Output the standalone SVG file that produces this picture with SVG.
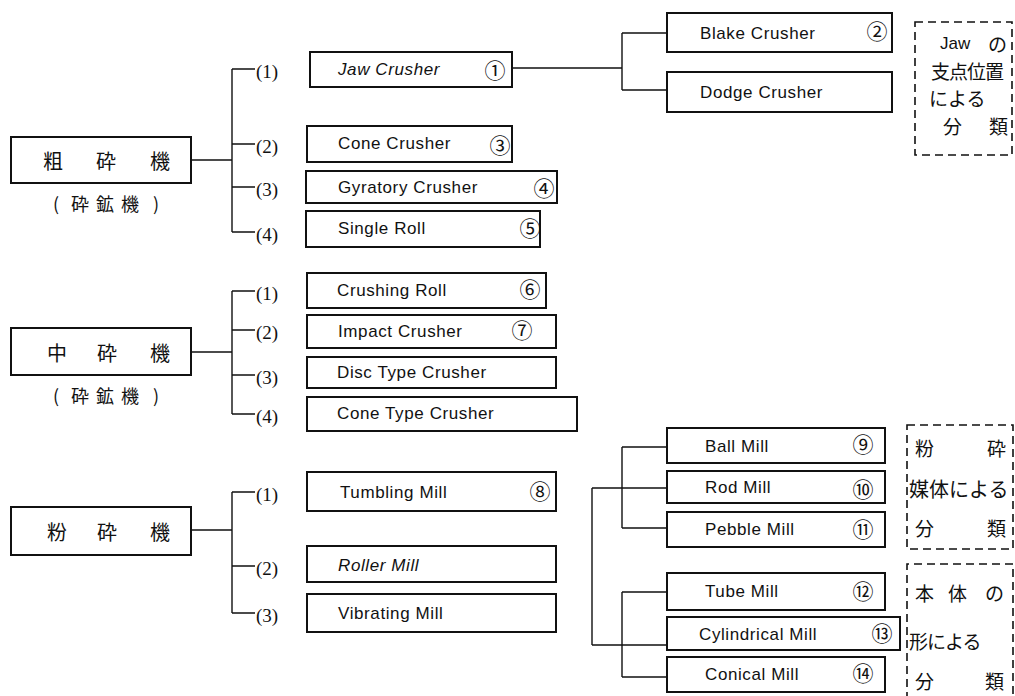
<svg xmlns="http://www.w3.org/2000/svg" width="1015" height="696" viewBox="0 0 1015 696">
<style>
.box{fill:#fff;stroke:#111;stroke-width:2}
.dash{fill:none;stroke:#111;stroke-width:1.6;stroke-dasharray:8 5}
.ln{fill:none;stroke:#111;stroke-width:1.4}
.en{font-family:"Liberation Sans",Arial,sans-serif;font-size:17px;letter-spacing:0.6px;fill:#111;dominant-baseline:central}
.it{font-style:italic}
.num{font-family:"Noto Sans CJK JP",sans-serif;font-size:21px;fill:#111;text-anchor:middle;dominant-baseline:central}
.jp{font-family:"Noto Sans CJK JP",sans-serif;font-size:20px;fill:#111;text-anchor:middle;dominant-baseline:central}
.jps{font-family:"Noto Sans CJK JP",sans-serif;font-size:18px;fill:#111;text-anchor:middle;dominant-baseline:central}
.jpd{font-family:"Noto Sans CJK JP",sans-serif;font-size:19px;fill:#111;dominant-baseline:central}
.lab{font-family:"Liberation Serif","Times New Roman",serif;font-size:19px;fill:#111;dominant-baseline:central}
</style>
<rect width="1015" height="696" fill="#fff"/>

<g id="connectors">
  <path class="ln" d="M191 160H232M232 69V232M232 69H255M232 144H255M232 187H255M232 232H255"/>
  <path class="ln" d="M512 68H622M622 33V90M622 33H667M622 90H667"/>
  <path class="ln" d="M191 352H232M232 291V414M232 291H255M232 330H255M232 375H255M232 414H255"/>
  <path class="ln" d="M191 530H232M232 492V613M232 492H255M232 566H255M232 613H255"/>
  <path class="ln" d="M592 488V645M592 488H667M592 645H667"/>
  <path class="ln" d="M622 447V528M622 447H667M622 528H667"/>
  <path class="ln" d="M622 592V677M622 592H667M622 677H667"/>
</g>

<g id="n-coarse">
  <rect class="box" x="11" y="137" width="180" height="46"/>
  <text class="jp" x="53" y="160">粗</text><text class="jp" x="106" y="160">砕</text><text class="jp" x="160" y="160">機</text>
  <text class="jps" x="56" y="203">(</text><text class="jps" x="80" y="203">砕</text><text class="jps" x="105" y="203">鉱</text><text class="jps" x="130" y="203">機</text><text class="jps" x="156" y="203">)</text>
</g>
<g id="labels-1">
  <text class="lab" x="256" y="71">(1)</text>
  <text class="lab" x="256" y="146">(2)</text>
  <text class="lab" x="256" y="189">(3)</text>
  <text class="lab" x="256" y="234">(4)</text>
</g>
<g id="n-jaw">
  <rect class="box" x="310" y="52" width="202" height="35"/>
  <text class="en it" x="338" y="69">Jaw Crusher</text><text class="num" x="495" y="69">①</text>
</g>
<g id="n-cone">
  <rect class="box" x="307" y="126" width="205" height="36"/>
  <text class="en" x="338" y="143">Cone Crusher</text><text class="num" x="500" y="144">③</text>
</g>
<g id="n-gyratory">
  <rect class="box" x="306" y="171" width="251" height="32"/>
  <text class="en" x="338" y="187">Gyratory Crusher</text><text class="num" x="544" y="187">④</text>
</g>
<g id="n-single">
  <rect class="box" x="306" y="211" width="234" height="36"/>
  <text class="en" x="338" y="228">Single Roll</text><text class="num" x="530" y="227">⑤</text>
</g>
<g id="n-blake">
  <rect class="box" x="667" y="13" width="225" height="39"/>
  <text class="en" x="700" y="33">Blake Crusher</text><text class="num" x="877" y="30">②</text>
</g>
<g id="n-dodge">
  <rect class="box" x="667" y="72" width="225" height="40"/>
  <text class="en" x="700" y="92">Dodge Crusher</text>
</g>
<g id="note-jaw">
  <rect class="dash" x="915" y="22" width="97" height="133"/>
  <text class="en" x="940" y="43" style="letter-spacing:0">Jaw</text><text class="jpd" x="988" y="43">の</text>
  <text class="jpd" x="931" y="70" style="letter-spacing:-1px">支点位置</text>
  <text class="jpd" x="929" y="97">による</text>
  <text class="jpd" x="943" y="125">分</text><text class="jpd" x="989" y="125">類</text>
</g>

<g id="n-medium">
  <rect class="box" x="11" y="328" width="180" height="47"/>
  <text class="jp" x="57" y="352">中</text><text class="jp" x="107" y="352">砕</text><text class="jp" x="160" y="352">機</text>
  <text class="jps" x="56" y="395">(</text><text class="jps" x="80" y="395">砕</text><text class="jps" x="105" y="395">鉱</text><text class="jps" x="130" y="395">機</text><text class="jps" x="156" y="395">)</text>
</g>
<g id="labels-2">
  <text class="lab" x="256" y="293">(1)</text>
  <text class="lab" x="256" y="332">(2)</text>
  <text class="lab" x="256" y="377">(3)</text>
  <text class="lab" x="256" y="416">(4)</text>
</g>
<g id="n-crushroll">
  <rect class="box" x="307" y="273" width="239" height="35"/>
  <text class="en" x="337" y="290">Crushing Roll</text><text class="num" x="530" y="288">⑥</text>
</g>
<g id="n-impact">
  <rect class="box" x="307" y="315" width="249" height="33"/>
  <text class="en" x="338" y="331">Impact Crusher</text><text class="num" x="522" y="329">⑦</text>
</g>
<g id="n-disc">
  <rect class="box" x="307" y="357" width="249" height="31"/>
  <text class="en" x="337" y="372">Disc Type Crusher</text>
</g>
<g id="n-conetype">
  <rect class="box" x="307" y="397" width="270" height="34"/>
  <text class="en" x="337" y="413">Cone Type Crusher</text>
</g>

<g id="n-fine">
  <rect class="box" x="11" y="507" width="180" height="48"/>
  <text class="jp" x="57" y="531">粉</text><text class="jp" x="107" y="531">砕</text><text class="jp" x="160" y="531">機</text>
</g>
<g id="labels-3">
  <text class="lab" x="256" y="494">(1)</text>
  <text class="lab" x="256" y="568">(2)</text>
  <text class="lab" x="256" y="615">(3)</text>
</g>
<g id="n-tumbling">
  <rect class="box" x="307" y="472" width="249" height="39"/>
  <text class="en" x="340" y="492">Tumbling Mill</text><text class="num" x="540" y="490">⑧</text>
</g>
<g id="n-roller">
  <rect class="box" x="307" y="546" width="249" height="36"/>
  <text class="en it" x="338" y="565">Roller Mill</text>
</g>
<g id="n-vibrating">
  <rect class="box" x="307" y="594" width="249" height="38"/>
  <text class="en" x="338" y="613">Vibrating Mill</text>
</g>

<g id="n-ball">
  <rect class="box" x="667" y="428" width="218" height="35"/>
  <text class="en" x="705" y="446">Ball Mill</text><text class="num" x="863" y="443">⑨</text>
</g>
<g id="n-rod">
  <rect class="box" x="667" y="471" width="218" height="32"/>
  <text class="en" x="705" y="487">Rod Mill</text><text class="num" x="863" y="488">⑩</text>
</g>
<g id="n-pebble">
  <rect class="box" x="667" y="512" width="218" height="35"/>
  <text class="en" x="705" y="529">Pebble Mill</text><text class="num" x="863" y="528">⑪</text>
</g>
<g id="n-tube">
  <rect class="box" x="667" y="573" width="218" height="37"/>
  <text class="en" x="705" y="591">Tube Mill</text><text class="num" x="863" y="590">⑫</text>
</g>
<g id="n-cylindrical">
  <rect class="box" x="667" y="617" width="233" height="33"/>
  <text class="en" x="699" y="634">Cylindrical Mill</text><text class="num" x="882" y="632">⑬</text>
</g>
<g id="n-conical">
  <rect class="box" x="667" y="657" width="218" height="35"/>
  <text class="en" x="705" y="674">Conical Mill</text><text class="num" x="863" y="672">⑭</text>
</g>

<g id="note-media">
  <rect class="dash" x="907" y="425" width="106" height="124"/>
  <text class="jpd" x="915" y="447">粉</text><text class="jpd" x="987" y="447">砕</text>
  <text class="jpd" x="909" y="488" style="font-size:20px;letter-spacing:0">媒体による</text>
  <text class="jpd" x="915" y="527">分</text><text class="jpd" x="987" y="527">類</text>
</g>
<g id="note-shape">
  <path class="dash" d="M907 700V564H1013V700"/>
  <text class="jpd" x="915" y="592">本</text><text class="jpd" x="948" y="592">体</text><text class="jpd" x="985" y="592">の</text>
  <text class="jpd" x="909" y="640" style="letter-spacing:-1px">形による</text>
  <text class="jpd" x="915" y="680">分</text><text class="jpd" x="985" y="680">類</text>
</g>
</svg>
